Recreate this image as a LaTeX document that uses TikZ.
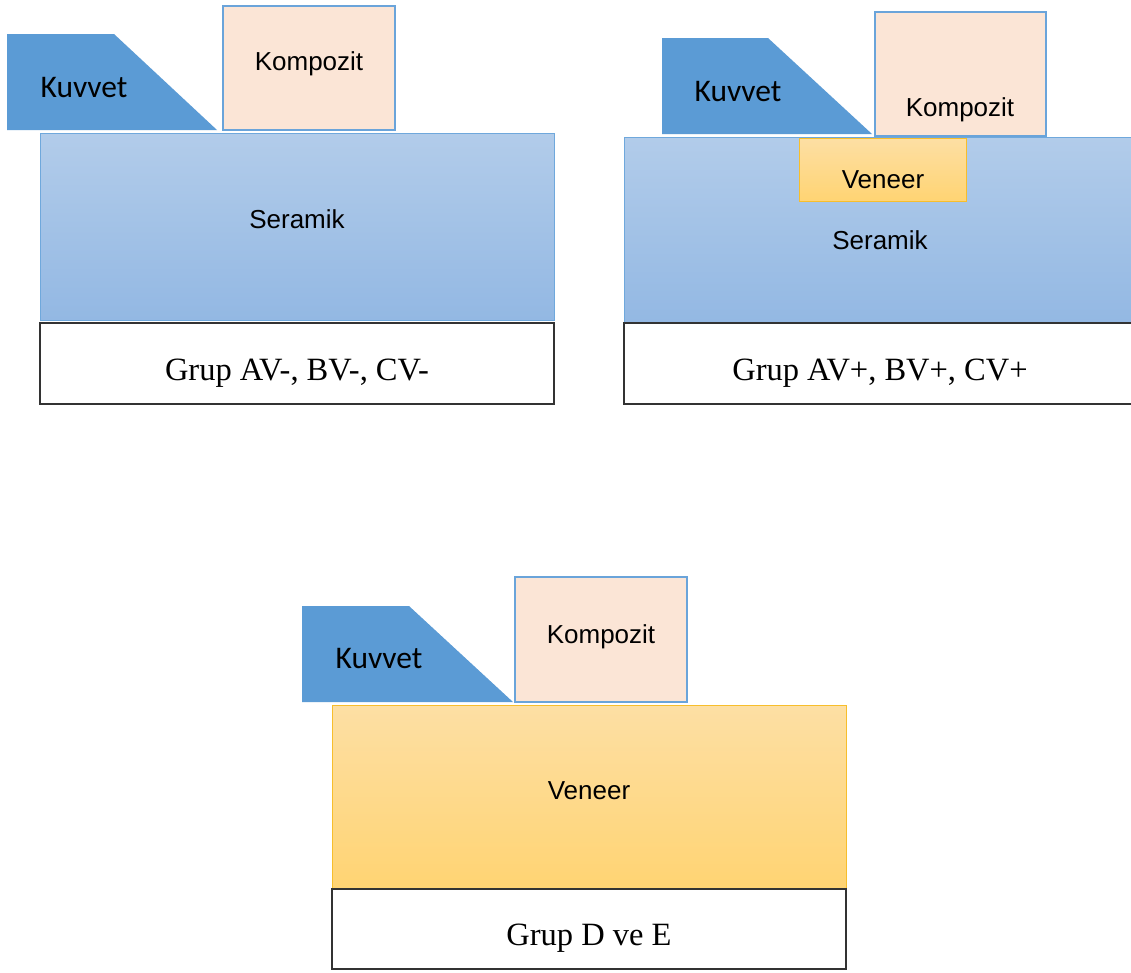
\documentclass[tikz,border=0pt]{standalone}
\usepackage{fontspec}
\setmainfont{Liberation Serif}
\newfontfamily\calfont{Carlito}
\newfontfamily\arialfont{Liberation Sans}
\definecolor{kuvvetblue}{HTML}{5B9BD5}
\definecolor{kompfill}{HTML}{FBE5D6}
\definecolor{kompedge}{HTML}{6AA4DA}
\definecolor{seratop}{HTML}{B2CCEA}
\definecolor{serabot}{HTML}{93B8E3}
\definecolor{seraedge}{HTML}{6FA8DC}
\definecolor{ventop}{HTML}{FDDFA4}
\definecolor{venbot}{HTML}{FFD473}
\definecolor{venedge}{HTML}{F7BE2C}
\definecolor{grupedge}{HTML}{333333}
\begin{document}
\begin{tikzpicture}[x=1pt,y=-1pt,
  kuvvetshape/.style={fill=kuvvetblue},
  kompbox/.style={fill=kompfill,draw=kompedge,line width=2pt},
  serabox/.style={top color=seratop,bottom color=serabot,draw=seraedge,line width=0.9pt},
  venbox/.style={top color=ventop,bottom color=venbot,draw=venedge,line width=0.9pt},
  grupbox/.style={fill=white,draw=grupedge,line width=1.2pt},
  kuvtext/.style={anchor=base,inner sep=0pt,font=\calfont\fontsize{31.5}{36}\selectfont},
  sanstext/.style={anchor=base,inner sep=0pt,font=\arialfont\fontsize{26}{30}\selectfont},
  groupText/.style={anchor=base,inner sep=0pt,font=\fontsize{32.5}{38}\selectfont}]
\useasboundingbox (0,0) rectangle (1131,972);
\fill[white] (0,0) rectangle (1131,972);
\begin{scope}
\clip (0,0) rectangle (1131,972);
% ---------- panel 1 ----------
\fill[kuvvetshape] (7,34) -- (114,34) -- (217,130) -- (7,130) -- cycle;
\path[kompbox] (223,6) rectangle (395,130);
\path[serabox] (40,133) rectangle (554,320);
\path[grupbox] (40,323) rectangle (554,404);
\node[kuvtext] (kuv1) at (84,97) {Kuvvet};
\node[sanstext] (komp1) at (309,70) {Kompozit};
\node[sanstext] (sera1) at (297,228) {Seramik};
\node[groupText] (grup1) at (297,380) {Grup AV-, BV-, CV-};
% ---------- panel 2 ----------
\fill[kuvvetshape] (662,38) -- (768,38) -- (872,134) -- (662,134) -- cycle;
\path[kompbox] (875,12) rectangle (1046,136);
\path[serabox] (624,137) rectangle (1140,323);
\path[venbox] (799,138) rectangle (966,201);
\path[grupbox] (624,323) rectangle (1140,404);
\node[kuvtext] (kuv2) at (738,101) {Kuvvet};
\node[sanstext] (komp2) at (960,116) {Kompozit};
\node[sanstext] (ven2) at (883,188) {Veneer};
\node[sanstext] (sera2) at (880,249) {Seramik};
\node[groupText] (grup2) at (880,380) {Grup AV+, BV+, CV+};
% ---------- panel 3 ----------
\fill[kuvvetshape] (302,606) -- (409,606) -- (513,702) -- (302,702) -- cycle;
\path[kompbox] (515,577) rectangle (687,702);
\path[venbox] (332,705) rectangle (846,888);
\path[grupbox] (332,889) rectangle (846,969);
\node[kuvtext] (kuv3) at (379,668) {Kuvvet};
\node[sanstext] (komp3) at (601,643) {Kompozit};
\node[sanstext] (ven3) at (589,799) {Veneer};
\node[groupText] (grup3) at (589,945) {Grup D ve E};
\end{scope}
\end{tikzpicture}
\end{document}
